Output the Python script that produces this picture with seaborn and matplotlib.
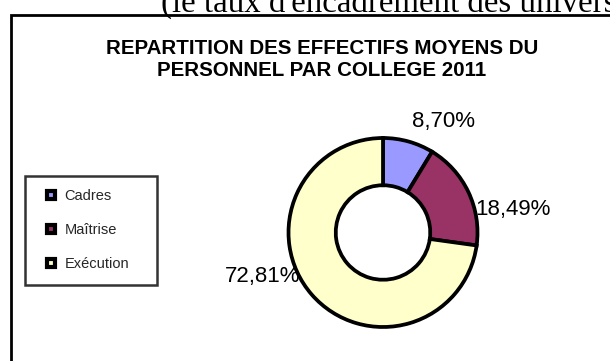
import matplotlib
matplotlib.use("Agg")
import matplotlib.pyplot as plt
from matplotlib.lines import Line2D
from matplotlib.patches import Rectangle
import seaborn as sns

# Staff share by category (college), 2011
categories = ["Cadres", "Maîtrise", "Exécution"]
shares = [8.70, 18.49, 72.81]
slice_colors = ["#9999FF", "#993366", "#FFFFCC"]
title_lines = ["REPARTITION DES EFFECTIFS MOYENS DU", "PERSONNEL PAR COLLEGE 2011"]
page_text = "(le taux d'encadrement des universités"

sns.set_theme(style="white")
plt.rcParams["font.family"] = ["Liberation Sans", "DejaVu Sans"]

W, H = 610, 361
fig = plt.figure(figsize=(W / 100, H / 100), dpi=100)
fig.patch.set_facecolor("white")
ax = fig.add_axes([0, 0, 1, 1])

palette = sns.color_palette(slice_colors)

# Donut, clockwise from twelve o'clock
cx, cy, r = 383, H - 232.5, 94.5
wedges, _ = ax.pie(
    shares,
    colors=palette,
    startangle=90,
    counterclock=False,
    center=(cx, cy),
    radius=r,
    wedgeprops=dict(width=r * 0.5, edgecolor="black", linewidth=2.7),
)
ax.set_xlim(0, W)
ax.set_ylim(0, H)
ax.set_aspect("equal")
ax.axis("off")

# Percentage labels around the ring
label_layout = [
    dict(x=412, y=127, ha="left"),
    dict(x=475, y=215, ha="left"),
    dict(x=300, y=282, ha="right"),
]
for value, lay in zip(shares, label_layout):
    ax.text(lay["x"], H - lay["y"], f"{value:.2f}%".replace(".", ","),
            ha=lay["ha"], va="baseline", fontsize=16, color="black")

# Chart title
ax.text(322, H - 54, title_lines[0], ha="center", va="baseline",
        fontsize=14.8, fontweight="bold", color="black")
ax.text(322, H - 75.5, title_lines[1], ha="center", va="baseline",
        fontsize=14.8, fontweight="bold", color="black")

# Surrounding page text and chart frame
ax.text(161, H - 12, page_text, ha="left", va="baseline", fontsize=23.7,
        family=["Liberation Serif", "DejaVu Serif"], color="black", clip_on=False)
ax.add_patch(Rectangle((11, -20), 700, H - 15 + 20, fill=False,
                       edgecolor="black", linewidth=2.0, clip_on=False))

# Legend
handles = [
    Line2D([], [], linestyle="none", marker="s", markersize=5.5,
           markerfacecolor=c, markeredgecolor="black", markeredgewidth=3.0)
    for c in palette
]
leg = fig.legend(
    handles, categories,
    loc="upper left",
    bbox_to_anchor=(25 / W, 1 - 289 / H, 132 / W, 113 / H),
    mode="expand",
    borderaxespad=0,
    fontsize=10.5,
    frameon=True,
    fancybox=False,
    borderpad=0.9,
    handlelength=1.7,
    handletextpad=0.1,
    labelspacing=1.38,
)
leg.get_frame().set_edgecolor("black")
leg.get_frame().set_linewidth(1.8)
leg.get_frame().set_facecolor("white")

fig.savefig("out.png", dpi=100)
